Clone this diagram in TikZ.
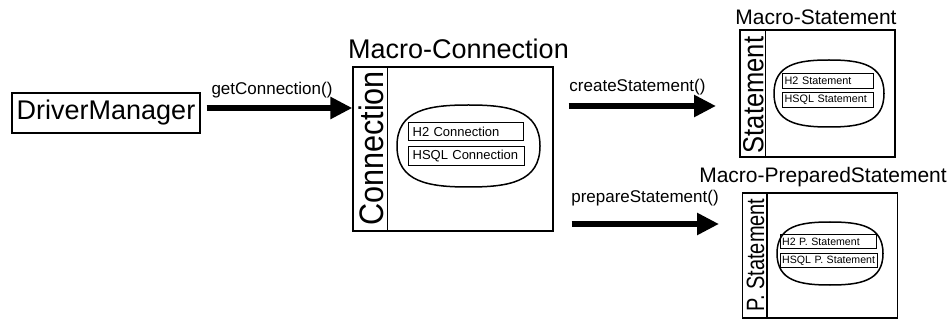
\documentclass[tikz,border=0pt]{standalone}
\usepackage{fontspec}
\usepackage{graphicx}
\setmainfont{Liberation Sans}
\usetikzlibrary{arrows.meta}
\newcommand{\fs}[1]{\fontsize{#1}{#1}\selectfont}
\newcommand{\drumshape}[4]{%
  \draw[drum] ({#1},{(#2+#4)/2})
    .. controls ({#1},{#2+0.06*(#4-#2)}) and ({#1+0.22*(#3-#1)},{#2}) .. ({(#1+#3)/2},{#2})
    .. controls ({#3-0.22*(#3-#1)},{#2}) and ({#3},{#2+0.06*(#4-#2)}) .. ({#3},{(#2+#4)/2})
    .. controls ({#3},{#4-0.06*(#4-#2)}) and ({#3-0.22*(#3-#1)},{#4}) .. ({(#1+#3)/2},{#4})
    .. controls ({#1+0.22*(#3-#1)},{#4}) and ({#1},{#4-0.06*(#4-#2)}) .. cycle;}
\tikzset{
  mbox/.style={draw, line width=1.3pt, inner sep=0pt},
  drum/.style={draw, line width=1.5pt},
  inbox/.style={draw, line width=1.3pt, inner xsep=4pt, inner ysep=0pt, align=left, anchor=north west},
  fat/.style={line width=6pt, -{Triangle[length=22pt,width=21pt]}},
  lbl/.style={anchor=base, inner sep=0pt, font=\fs{17}},
  ttl/.style={anchor=base, inner sep=0pt},
  side/.style={rotate=90, inner sep=0pt}
}
\begin{document}
\begin{tikzpicture}[x=1pt,y=-1pt]
\useasboundingbox (0,0) rectangle (947,320);
% DriverManager
\node[mbox, minimum width=188pt, minimum height=40pt, font=\fs{27}] (dm) at (106,113) {DriverManager};
% Macro-Connection
\node[ttl, font=\fs{27}] (mct) at (458.5,59) {Macro-Connection};
\node[mbox, minimum width=200pt, minimum height=164pt] (mc) at (453,149) {};
\draw[line width=1.3pt] ([xshift=35pt]mc.north west) -- ([xshift=35pt]mc.south west);
\node[side] (mcs) at (371,148.5) {\scalebox{0.9}[1]{\fs{34}Connection}};
\drumshape{397}{105}{540}{187}
\node[inbox, text width=107pt, minimum height=18pt, font=\fs{13}] (h2c) at (408,122) {\mbox{H2 Connection}};
\node[inbox, text width=108pt, minimum height=19pt, font=\fs{13}] (hsc) at (408,146) {\mbox{HSQL Connection}};
% Macro-Statement
\node[ttl, font=\fs{21}] (mst) at (816,25) {Macro-Statement};
\node[mbox, minimum width=155pt, minimum height=127pt] (ms) at (817.5,93.5) {};
\draw[line width=1.3pt] ([xshift=26pt]ms.north west) -- ([xshift=26pt]ms.south west);
\node[side] (mss) at (753.5,95) {\scalebox{0.88}[1]{\fs{29}Statement}};
\drumshape{774}{60}{884}{127}
\node[inbox, inner xsep=2pt, text width=87pt, minimum height=15pt, font=\fs{10.8}] (h2s) at (782,73) {\mbox{H2 Statement}};
\node[inbox, inner xsep=2pt, text width=87pt, minimum height=15pt, font=\fs{10.8}] (hss) at (782,92) {\mbox{HSQL Statement}};
% Macro-PreparedStatement
\node[ttl, font=\fs{21}] (mpt) at (823,183) {Macro-PreparedStatement};
\node[mbox, minimum width=155pt, minimum height=125pt] (mp) at (820,255.5) {};
\draw[line width=1.3pt] ([xshift=25pt]mp.north west) -- ([xshift=25pt]mp.south west);
\node[side] (mps) at (755.5,255) {\scalebox{0.8}[1]{\fs{25}P. Statement}};
\drumshape{777}{222}{883}{285}
\node[inbox, inner xsep=1.5pt, text width=93pt, minimum height=14pt, font=\fs{10.6}] (h2p) at (780,234) {\mbox{H2 P. Statement}};
\node[inbox, inner xsep=1.5pt, text width=94pt, minimum height=14pt, font=\fs{10.6}] (hsp) at (780,253) {\mbox{HSQL P. Statement}};
% arrows
\coordinate (csend) at (716,106);
\coordinate (psend) at (719,224);
\draw[fat] (dm.east |- 0,108) ++(6,0) -- (mc.west |- 0,108);
\draw[fat] (mc.east |- 0,106) ++(15,0) -- (csend);
\draw[fat] (mc.east |- 0,224) ++(18,0) -- (psend);
\node[lbl] (gc) at (272,95) {getConnection()};
\node[lbl] (cs) at (637.5,92) {createStatement()};
\node[lbl] (ps) at (645,203) {prepareStatement()};
\end{tikzpicture}
\end{document}
